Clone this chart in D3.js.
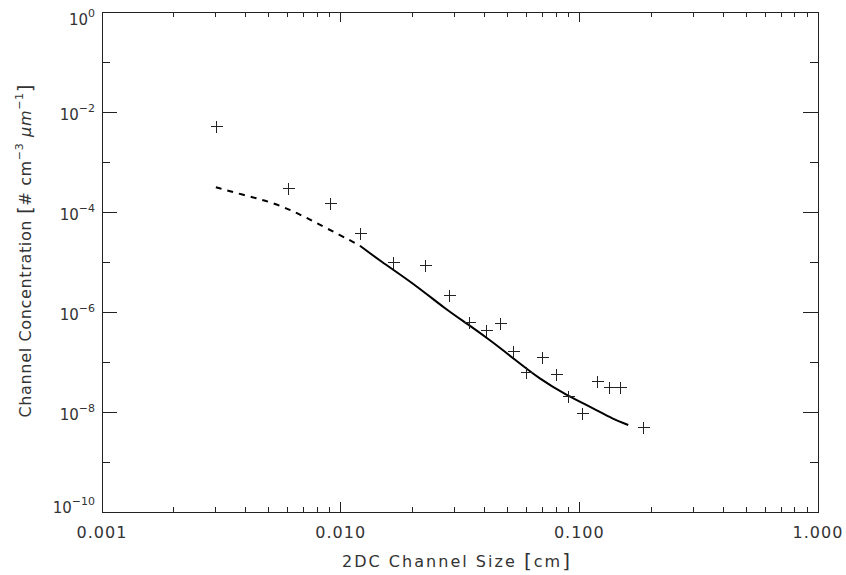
<!DOCTYPE html>
<html>
<head>
<meta charset="utf-8">
<script src="https://cdn.jsdelivr.net/npm/d3@7"></script>
<style>
  html, body { margin: 0; padding: 0; background: #fff; }
  svg { display: block; font-family: "DejaVu Sans", sans-serif; }
</style>
</head>
<body>
<svg id="chart" width="846" height="575"></svg>
<script>
// ---- data ----
const sizes = [0.003, 0.006, 0.009, 0.012, 0.0165, 0.0225, 0.0285, 0.0345, 0.0405, 0.0465,
               0.0525, 0.06, 0.07, 0.08, 0.09, 0.1025, 0.1185, 0.133, 0.148, 0.185];
const concentrations = [5.2e-3, 3.0e-4, 1.5e-4, 3.8e-5, 1.0e-5, 8.7e-6, 2.2e-6, 6.4e-7, 4.4e-7, 6.1e-7,
               1.66e-7, 6.2e-8, 1.24e-7, 5.75e-8, 2.1e-8, 9.4e-9, 4.2e-8, 3.1e-8, 3.1e-8, 5.1e-9];

const fitDashX = [0.0030, 0.00391, 0.00506, 0.00644, 0.00794, 0.00993, 0.01205];
const fitDashY = [3.12e-4, 2.19e-4, 1.61e-4, 1.01e-4, 5.94e-5, 3.47e-5, 2.12e-5];
const fitSolidX = [0.01205, 0.0146, 0.02015, 0.0278, 0.03373, 0.0422, 0.05284, 0.0684, 0.0881, 0.1143, 0.1387, 0.1603];
const fitSolidY = [2.12e-5, 1.06e-5, 3.75e-6, 1.1e-6, 5.94e-7, 2.75e-7, 1.19e-7, 4.5e-8, 2.19e-8, 1.19e-8, 7.2e-9, 5.5e-9];

const xMajorTicks = [0.001, 0.01, 0.1, 1];
const xTickLabels = ["0.001", "0.010", "0.100", "1.000"];
const yExponents = [0, -1, -2, -3, -4, -5, -6, -7, -8, -9, -10];
const yLabelExponents = [0, -2, -4, -6, -8, -10];
const xTitle = "2DC Channel Size ";
const yTitle = "Channel Concentration ";

// ---- layout ----
const L = 102, R = 818, T = 12, B = 512;
const svg = d3.select("#chart");
const ink = "#222";
const textInk = "#333";

const x = d3.scaleLog().domain([0.001, 1]).range([L, R]);
const y = d3.scaleLog().domain([1e-10, 1]).range([B, T]);

// minor x ticks
const xMinor = [];
for (let d = 0.001; d < 1; d *= 10) for (let k = 2; k <= 9; k++) xMinor.push(d * k);

// frame
svg.append("rect").attr("x", L).attr("y", T).attr("width", R - L).attr("height", B - T)
  .attr("fill", "none").attr("stroke", ink).attr("stroke-width", 1).attr("shape-rendering", "crispEdges");

const ticks = svg.append("g").attr("stroke", ink).attr("stroke-width", 1).attr("shape-rendering", "crispEdges");
xMajorTicks.forEach(v => {
  ticks.append("line").attr("x1", x(v)).attr("x2", x(v)).attr("y1", B).attr("y2", B - 10);
  ticks.append("line").attr("x1", x(v)).attr("x2", x(v)).attr("y1", T).attr("y2", T + 10);
});
xMinor.forEach(v => {
  ticks.append("line").attr("x1", x(v)).attr("x2", x(v)).attr("y1", B).attr("y2", B - 5);
  ticks.append("line").attr("x1", x(v)).attr("x2", x(v)).attr("y1", T).attr("y2", T + 5);
});
yExponents.forEach(e => {
  const len = (e % 2 === 0) ? 15 : 8;
  const yy = y(Math.pow(10, e));
  ticks.append("line").attr("x1", L).attr("x2", L + len).attr("y1", yy).attr("y2", yy);
  ticks.append("line").attr("x1", R).attr("x2", R - len).attr("y1", yy).attr("y2", yy);
});

// x tick labels
svg.append("g").selectAll("text").data(xMajorTicks).join("text")
  .attr("x", d => x(d)).attr("y", 538)
  .attr("text-anchor", "middle").attr("font-size", 16).attr("letter-spacing", 1)
  .attr("fill", textInk).text((d, i) => xTickLabels[i]);

// y tick labels
const yl = svg.append("g");
yLabelExponents.forEach(e => {
  const ty = y(Math.pow(10, e));
  const base = Math.max(T + 13, Math.min(B + 1, ty + 8));
  const t = yl.append("text").attr("x", 95).attr("y", base).attr("text-anchor", "end")
    .attr("fill", textInk).attr("font-size", 15);
  t.append("tspan").text("10");
  t.append("tspan").attr("font-size", 11).attr("dy", -8)
    .text(e === 0 ? "0" : "\u2212" + Math.abs(e));
});

// x title
const xt = svg.append("text").attr("x", 456).attr("y", 567).attr("text-anchor", "middle")
  .attr("font-size", 16).attr("fill", textInk).attr("textLength", 228).attr("lengthAdjust", "spacing");
xt.append("tspan").text(xTitle);
xt.append("tspan").attr("font-size", 20).attr("dy", 1).text("[");
xt.append("tspan").attr("font-size", 16).attr("dy", -1).text("cm");
xt.append("tspan").attr("font-size", 20).attr("dy", 1).text("]");

// y title (rotated)
const ytG = svg.append("g").attr("transform", "translate(31,251) rotate(-90)");
const yt = ytG.append("text").attr("x", 0).attr("y", 0).attr("text-anchor", "middle")
  .attr("font-size", 16).attr("fill", textInk).attr("textLength", 333).attr("lengthAdjust", "spacing");
yt.append("tspan").text(yTitle);
yt.append("tspan").attr("font-size", 20).attr("dy", 1).text("[");
yt.append("tspan").attr("font-size", 16).attr("dy", -1).text("# cm");
yt.append("tspan").attr("font-size", 11).attr("dy", -8).text("\u22123");
yt.append("tspan").attr("font-size", 16).attr("dy", 8).text(" ");
yt.append("tspan").attr("font-style", "italic").text("\u03bcm");
yt.append("tspan").attr("font-size", 11).attr("dy", -8).text("\u22121");
yt.append("tspan").attr("font-size", 20).attr("dy", 9).text("]");

// fit line
const line = d3.line().x(d => x(d[0])).y(d => y(d[1])).curve(d3.curveBasis);
svg.append("path").datum(d3.zip(fitDashX, fitDashY)).attr("d", line)
  .attr("fill", "none").attr("stroke", "#000").attr("stroke-width", 2).attr("stroke-dasharray", "6,6");
svg.append("path").datum(d3.zip(fitSolidX, fitSolidY)).attr("d", line)
  .attr("fill", "none").attr("stroke", "#000").attr("stroke-width", 2);

// crosses
const s = 6;
const pts = svg.append("g").attr("stroke", ink).attr("stroke-width", 1).attr("shape-rendering", "crispEdges");
d3.zip(sizes, concentrations).forEach(([a, b]) => {
  const px = Math.round(x(a)) + 0.5, py = Math.round(y(b)) + 0.5;
  pts.append("line").attr("x1", px - s).attr("x2", px + s).attr("y1", py).attr("y2", py);
  pts.append("line").attr("x1", px).attr("x2", px).attr("y1", py - s).attr("y2", py + s);
});
</script>
</body>
</html>
